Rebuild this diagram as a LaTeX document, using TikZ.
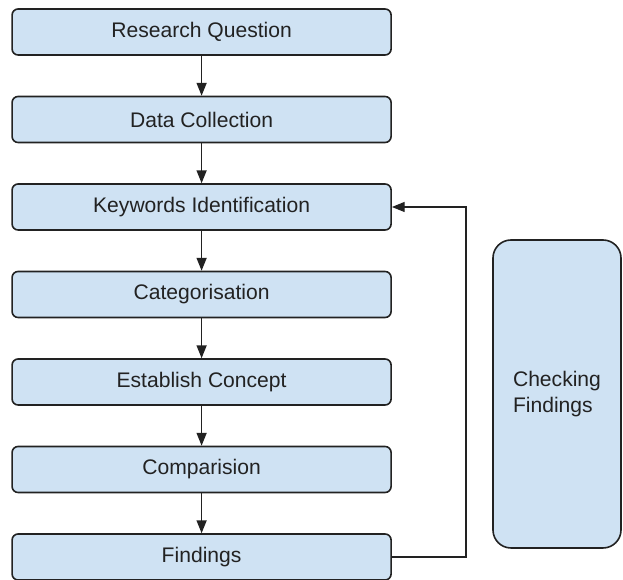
\documentclass[tikz,border=0pt]{standalone}
\usepackage{fontspec}
\setmainfont{Liberation Sans}
\usepackage{xcolor}
\usepackage{tikz}
\usetikzlibrary{arrows.meta}

\definecolor{boxblue}{HTML}{CFE2F3}
\definecolor{edge}{HTML}{222222}

\begin{document}
\begin{tikzpicture}[
    stepbox/.style={draw=edge, fill=boxblue, line width=0.04cm, rounded corners=0.15cm,
      minimum width=9.475cm, minimum height=1.15cm, inner sep=0pt,
      font=\fontsize{15}{18}\selectfont, text=edge},
    sidebox/.style={draw=edge, fill=boxblue, line width=0.04cm, rounded corners=0.45cm,
      minimum width=3.2cm, minimum height=7.7cm, inner sep=0pt, align=left,
      font=\fontsize{15}{18}\selectfont, text=edge},
    flow/.style={draw=edge, line width=0.035cm, -{Triangle[length=0.32cm, width=0.25cm]}}
  ]
      \useasboundingbox (0, 0) rectangle (15.575, 14.5);
      \node [stepbox] (rq) at (5.04, 13.7) {Research Question};
      \node [stepbox] (dc) at (5.04, 11.5125) {Data Collection};
      \node [stepbox] (kid) at (5.04, 9.325) {Keywords Identification};
      \node [stepbox] (cat) at (5.04, 7.1375) {Categorisation};
      \node [stepbox] (est) at (5.04, 4.95) {Establish Concept};
      \node [stepbox] (comp) at (5.04, 2.7625) {Comparision};
      \node [stepbox] (find) at (5.04, 0.575) {Findings};
      \node [sidebox] (check) at (13.925, 4.65) {Checking\\Findings};
      \coordinate (loop) at (11.65, 9.325);
      \draw [flow] (rq) -- (dc);
      \draw [flow] (dc) -- (kid);
      \draw [flow] (kid) -- (cat);
      \draw [flow] (cat) -- (est);
      \draw [flow] (est) -- (comp);
      \draw [flow] (comp) -- (find);
      \draw [flow] (find.east) -| (loop) -- (kid.east);
    \end{tikzpicture}
\end{document}
